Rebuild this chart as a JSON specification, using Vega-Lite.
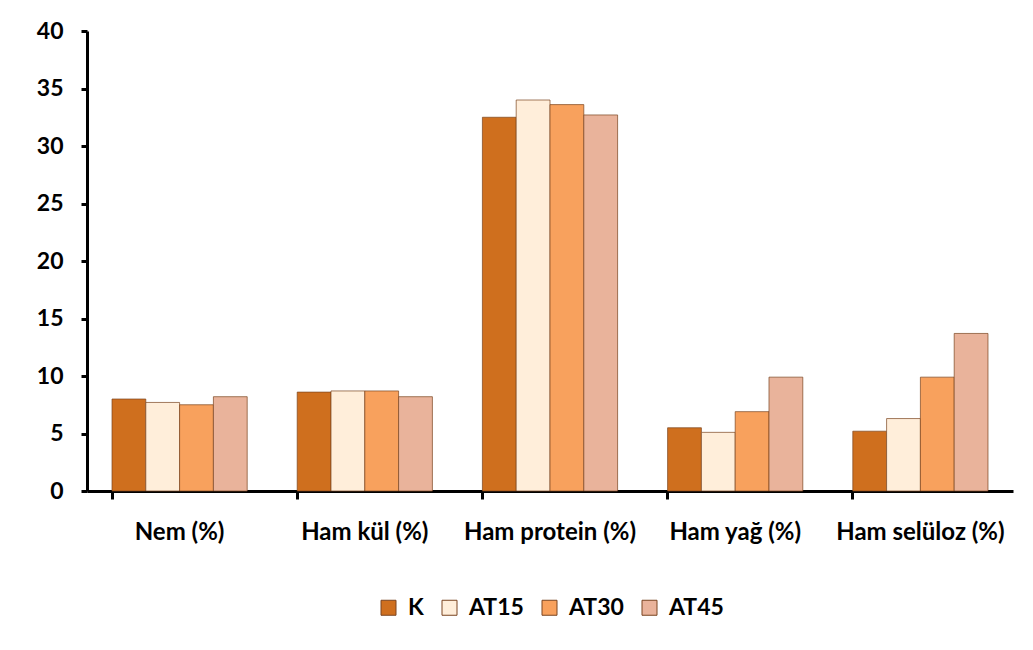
{
  "$schema": "https://vega.github.io/schema/vega-lite/v6.json",
  "width": 926,
  "height": 460,
  "padding": {"left": 36, "top": 20, "right": 10, "bottom": 10},
  "background": "white",
  "config": {
    "font": "Lato",
    "view": {"stroke": null},
    "axis": {"grid": false, "domainColor": "black", "tickColor": "black", "labelColor": "black", "labelFont": "Lato", "labelFontWeight": "bold"},
    "legend": {"layout": {"bottom": {"anchor": "middle"}}}
  },
  "data": {
    "values": [
      {"param": "Nem (%)", "group": "K", "value": 8.0},
      {"param": "Nem (%)", "group": "AT15", "value": 7.7},
      {"param": "Nem (%)", "group": "AT30", "value": 7.5},
      {"param": "Nem (%)", "group": "AT45", "value": 8.2},
      {"param": "Ham kül (%)", "group": "K", "value": 8.6},
      {"param": "Ham kül (%)", "group": "AT15", "value": 8.7},
      {"param": "Ham kül (%)", "group": "AT30", "value": 8.7},
      {"param": "Ham kül (%)", "group": "AT45", "value": 8.2},
      {"param": "Ham protein (%)", "group": "K", "value": 32.5},
      {"param": "Ham protein (%)", "group": "AT15", "value": 34.0},
      {"param": "Ham protein (%)", "group": "AT30", "value": 33.6},
      {"param": "Ham protein (%)", "group": "AT45", "value": 32.7},
      {"param": "Ham yağ (%)", "group": "K", "value": 5.5},
      {"param": "Ham yağ (%)", "group": "AT15", "value": 5.1},
      {"param": "Ham yağ (%)", "group": "AT30", "value": 6.9},
      {"param": "Ham yağ (%)", "group": "AT45", "value": 9.9},
      {"param": "Ham selüloz (%)", "group": "K", "value": 5.2},
      {"param": "Ham selüloz (%)", "group": "AT15", "value": 6.3},
      {"param": "Ham selüloz (%)", "group": "AT30", "value": 9.9},
      {"param": "Ham selüloz (%)", "group": "AT45", "value": 13.7}
    ]
  },
  "mark": {"type": "bar", "stroke": "#7a4420", "strokeWidth": 1, "strokeOpacity": 0.7},
  "encoding": {
    "x": {
      "field": "param", "type": "nominal", "sort": null, "title": null,
      "scale": {"paddingInner": 0.27, "paddingOuter": 0.135},
      "axis": {"labelAngle": 0, "labelFontSize": 24, "domainWidth": 3, "tickWidth": 3, "tickSize": 8, "bandPosition": 0, "labelPadding": 21}
    },
    "xOffset": {"field": "group", "type": "nominal", "sort": ["K", "AT15", "AT30", "AT45"]},
    "y": {
      "field": "value", "type": "quantitative", "title": null,
      "scale": {"domain": [0, 40], "nice": false},
      "axis": {"values": [0, 5, 10, 15, 20, 25, 30, 35, 40], "labelFontSize": 23, "domainWidth": 3, "tickWidth": 3, "tickSize": 6, "labelPadding": 18}
    },
    "color": {
      "field": "group", "type": "nominal", "sort": ["K", "AT15", "AT30", "AT45"],
      "scale": {"domain": ["K", "AT15", "AT30", "AT45"], "range": ["#CF6F1E", "#FFEEDA", "#F8A15D", "#E9B39B"]},
      "legend": {
        "title": null, "orient": "bottom", "direction": "horizontal", "offset": 52,
        "symbolType": "square", "symbolSize": 225, "symbolStrokeColor": "#7a4420", "symbolStrokeWidth": 1,
        "labelFontSize": 23, "labelFontWeight": "bold", "labelColor": "black", "labelOffset": 8, "columnPadding": 14
      }
    }
  }
}
